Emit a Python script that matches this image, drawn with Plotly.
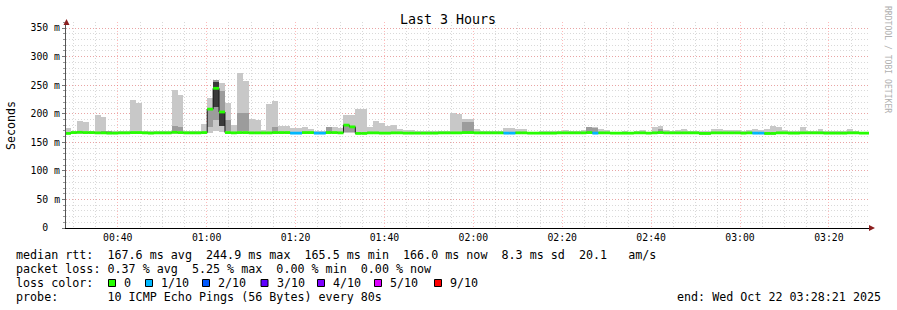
import plotly.graph_objects as go
import pandas as pd

# ---------------- data (ms) ----------------
smoke_max = [175, 170, 188, 186, 170, 198, 194, 170, 169, 169,
             169, 224, 218, 170, 169, 169, 170, 169, 241, 233,
             170, 170, 169, 182, 228, 259, 253, 219, 180, 272,
             258, 191, 189, 172, 217, 222, 179, 179, 175, 175,
             177, 173, 170, 170, 176, 177, 175, 198, 198, 209,
             209, 177, 187, 183, 178, 181, 173, 171, 171, 169,
             169, 170, 169, 169, 170, 201, 199, 190, 190, 174,
             170, 170, 170, 170, 175, 175, 174, 174, 168, 168,
             169, 169, 169, 170, 171, 169, 169, 172, 177, 177,
             173, 172, 168, 168, 169, 168, 170, 172, 168, 177,
             179, 172, 169, 172, 173, 170, 169, 170, 170, 173,
             173, 172, 172, 172, 169, 171, 174, 172, 173, 179,
             177, 172, 169, 169, 177, 170, 170, 173, 169, 169,
             169, 169, 174, 170, 168, 168]

smoke_min = [164, 165, 165, 165, 165, 164.5, 164.5, 164.5, 164.5, 164.5,
             164.5, 165, 165, 164.5, 164, 164.5, 164.5, 164.5, 165, 165,
             164.5, 164.5, 164.5, 165, 166, 170, 168, 165, 164.5, 165,
             165, 164.5, 164.5, 164.5, 164.5, 165, 165, 165, 164, 164,
             165, 165, 164, 164, 165, 165, 164.5, 166, 166, 164,
             164, 164.5, 164.5, 164.5, 164.5, 164.5, 164.5, 164.5, 164.5, 164.5,
             164.5, 164.5, 164.5, 164.5, 164.5, 164.5, 164.5, 165, 165, 164.5,
             164.5, 164.5, 164.5, 164.5, 164, 164, 164.5, 164.5, 164.5, 164.5,
             164.5, 164.5, 164.5, 164.5, 164.5, 164.5, 164.5, 164.5, 165, 164,
             164.5, 164.5, 164.5, 164.5, 164.5, 164.5, 164.5, 164.5, 164.5, 164.5,
             164.5, 164.5, 164.5, 164.5, 164.5, 164.5, 164.5, 163, 163, 164.5,
             164.5, 164.5, 164.5, 164.5, 164.5, 164.5, 164, 164, 163, 163,
             164.5, 164.5, 164.5, 164.5, 164.5, 164.5, 164.5, 164.5, 164.5, 164.5,
             164.5, 164.5, 164.5, 164.5, 164.5, 164.5]

median = [165.5, 167, 167.5, 167, 167, 166.5, 166.5, 166, 166, 166.5,
          166.5, 167, 167, 166.5, 166, 166.5, 166.5, 166.5, 167.5, 167,
          166.5, 166.5, 166.5, 167, 208, 244.5, 203, 167, 166.5, 167,
          167, 166.5, 166.5, 166.5, 166.5, 167, 167, 167, 166, 166,
          167, 167, 166, 166, 167, 167, 166.5, 180, 177, 165.5,
          165.5, 166.5, 166.5, 166, 166, 166.5, 166.5, 166, 166, 166,
          166, 166, 166, 166.5, 166.5, 166.5, 166.5, 167, 167, 166.5,
          166.5, 166.5, 166.5, 166.5, 166, 166, 166.5, 166.5, 166, 166,
          166, 166, 166, 166.5, 166.5, 166.5, 166.5, 166.5, 167, 166,
          166.5, 166.5, 166, 166, 166, 166, 166.5, 166.5, 166, 166.5,
          167, 166.5, 166.5, 166.5, 166.5, 166.5, 166.5, 165.5, 165.5, 166.5,
          166.5, 166.5, 166.5, 166.5, 166, 166.5, 166, 166, 165.5, 165.5,
          166.5, 166.5, 166, 166, 166.5, 166.5, 166.5, 166.5, 166, 166,
          166, 166, 166.5, 166.5, 166, 166]

loss = [0] * 38 + [1, 1, 0, 0, 1, 1] + [0] * 30 + [1, 1] + [0] * 13 + [1] + [0] * 26 + [1, 1] + [0] * 18

mid_idx = [6, 7, 18, 19, 24, 25, 26, 27, 29, 30, 35, 44, 47, 48, 67, 68, 88, 89, 100]
mid_lo = [166, 166, 169, 169, 177, 189, 178, 169, 169, 169, 168, 168, 168, 168, 168, 168, 168, 168, 168]
mid_hi = [170, 170, 179, 176, 206, 259, 240, 189, 201, 201, 177, 176, 179, 179, 186, 186, 177, 175, 173]

dark_idx = [25, 26]
dark_lo = [212, 178]
dark_hi = [256, 201]

loss_labels = ["0", "1/10", "2/10", "3/10", "4/10", "5/10", "9/10"]
loss_colors = ["#26ff00", "#00b8ff", "#0059ff", "#5e00ff", "#7e00ff", "#dd00ff", "#ff0000"]

y_ticks = [0, 50, 100, 150, 200, 250, 300, 350]
y_ticktext = ["0\u00a0\u00a0", "50 m", "100 m", "150 m", "200 m", "250 m", "300 m", "350 m"]

# ---------------- scales ----------------
STEP_S = 80
t_start = pd.Timestamp("2025-10-22 00:28:21")
bar_start = pd.Timestamp("2025-10-22 00:28:07")
n = len(median)
starts = [bar_start + pd.Timedelta(seconds=STEP_S * i) for i in range(n)]
ends = [s + pd.Timedelta(seconds=STEP_S) for s in starts]
centers = [s + pd.Timedelta(seconds=STEP_S / 2) for s in starts]
W = STEP_S * 1000

PLOT_L, PLOT_R, PLOT_T, PLOT_B = 66, 869, 22, 228
x_end = t_start + pd.Timedelta(minutes=180 * (PLOT_R - PLOT_L) / 800)


def px(x):
    return (x - PLOT_L) / (PLOT_R - PLOT_L)


def py(y):
    return (PLOT_B - y) / (PLOT_B - PLOT_T)


fig = go.Figure()

# light smoke
fig.add_trace(go.Bar(x=centers, base=smoke_min,
                     y=[h - l for h, l in zip(smoke_max, smoke_min)],
                     width=[W] * n, marker=dict(color="#c8c8c8", line=dict(width=0)),
                     hoverinfo="skip"))
# mid smoke
fig.add_trace(go.Bar(x=[centers[i] for i in mid_idx], base=mid_lo,
                     y=[h - l for h, l in zip(mid_hi, mid_lo)],
                     width=[W] * len(mid_idx), marker=dict(color="#9c9c9c", line=dict(width=0)),
                     hoverinfo="skip"))
# dark smoke
fig.add_trace(go.Bar(x=[centers[i] for i in dark_idx], base=dark_lo,
                     y=[h - l for h, l in zip(dark_hi, dark_lo)],
                     width=[W] * len(dark_idx), marker=dict(color="#3a3a3a", line=dict(width=0)),
                     hoverinfo="skip"))
# black step outline of median
fig.add_trace(go.Scatter(x=starts + [ends[-1]],
                         y=median + [median[-1]], mode="lines",
                         line=dict(color="#1a1a1a", width=1, shape="hv"), hoverinfo="skip"))
# median segments coloured by loss
for li, col in enumerate(loss_colors):
    xs, ys = [], []
    for i in range(n):
        if min(loss[i], 6) == li:
            xs += [starts[i], ends[i], None]
            ys += [median[i], median[i], None]
    if xs:
        fig.add_trace(go.Scatter(x=xs, y=ys, mode="lines",
                                 line=dict(color=col, width=2.8), hoverinfo="skip"))

mono = "DejaVu Sans Mono"
major_grid = "rgba(255,90,90,0.42)"
minor_grid = "rgba(150,150,150,0.36)"

fig.update_layout(
    width=897, height=310,
    margin=dict(l=PLOT_L, r=897 - PLOT_R, t=PLOT_T, b=310 - PLOT_B),
    paper_bgcolor="white", plot_bgcolor="white",
    barmode="overlay", bargap=0, showlegend=False,
    font=dict(family=mono, size=10, color="black"),
    xaxis=dict(type="date", range=[t_start, x_end],
               tick0="2025-10-22 00:00:00", dtick=20 * 60 * 1000, tickformat="%H:%M",
               showgrid=True, gridcolor=major_grid, griddash="1px,2px", gridwidth=1,
               ticks="",
               minor=dict(dtick=5 * 60 * 1000, showgrid=True, gridcolor=minor_grid,
                          griddash="1px,2px", ticks=""),
               showline=True, linecolor="black", linewidth=1, zeroline=False,
               tickfont=dict(family=mono, size=9.8, color="black"), fixedrange=True),
    yaxis=dict(range=[0, 360.5], tickvals=y_ticks, ticktext=y_ticktext,
               showgrid=True, gridcolor=major_grid, griddash="1px,2px", gridwidth=1,
               ticks="outside", ticklen=3, tickcolor="#777",
               minor=dict(dtick=10, showgrid=True, gridcolor=minor_grid, griddash="1px,2px",
                          ticks="outside", ticklen=2, tickcolor="#999"),
               showline=True, linecolor="#555", linewidth=1, zeroline=False,
               ticklabelstandoff=0,
               tickfont=dict(family=mono, size=9.8, color="black"), fixedrange=True),
)

ann = []
ann.append(dict(text="Last 3 Hours", x=px(448), y=py(19), xref="paper", yref="paper",
                showarrow=False, font=dict(family=mono, size=13.3, color="black"),
                xanchor="center", yanchor="middle"))
ann.append(dict(text="Seconds", x=px(11), y=py(126), xref="paper", yref="paper", textangle=-90,
                showarrow=False, font=dict(family=mono, size=11.6, color="black"),
                xanchor="center", yanchor="middle"))
ann.append(dict(text="RRDTOOL / TOBI OETIKER", x=px(888), y=py(59), xref="paper", yref="paper",
                textangle=90, showarrow=False, font=dict(family=mono, size=8.1, color="#b0b0b0"),
                xanchor="center", yanchor="middle"))


def nb(s):
    return s.replace(" ", "\u00a0")


lines = [
    (255, "median rtt:  167.6 ms avg  244.9 ms max  165.5 ms min  166.0 ms now  8.3 ms sd  20.1   am/s"),
    (268.5, "packet loss: 0.37 % avg  5.25 % max  0.00 % min  0.00 % now"),
    (282.5, "loss color:"),
    (296.5, "probe:       10 ICMP Echo Pings (56 Bytes) every 80s"),
]
for yy, t in lines:
    ann.append(dict(text=nb(t), x=px(15), y=py(yy), xref="paper", yref="paper",
                    showarrow=False, font=dict(family=mono, size=11.7, color="black"),
                    xanchor="left", yanchor="middle", borderpad=0))

label_x = [124, 161, 218, 276.5, 333, 390, 450]
shapes = []
for lx, lab, col in zip(label_x, loss_labels, loss_colors):
    ann.append(dict(text=lab, x=px(lx - 1), y=py(282.5), xref="paper", yref="paper",
                    showarrow=False, font=dict(family=mono, size=11.7, color="black"),
                    xanchor="left", yanchor="middle", borderpad=0))
    shapes.append(dict(type="rect", xref="paper", yref="paper",
                       x0=px(lx - 15.5), x1=px(lx - 8.5), y0=py(286.5), y1=py(279.5),
                       fillcolor=col, line=dict(color="black", width=1)))

ann.append(dict(text=nb("end: Wed Oct 22 03:28:21 2025"), x=px(882), y=py(296.5),
                xref="paper", yref="paper", showarrow=False,
                font=dict(family=mono, size=11.7, color="black"),
                xanchor="right", yanchor="middle", borderpad=0))

# axis arrows
shapes.append(dict(type="path", xref="paper", yref="paper",
                   path=f"M {px(63.5)} {py(25)} L {px(69.5)} {py(25)} L {px(66.5)} {py(19)} Z",
                   fillcolor="#8b1e1e", line=dict(color="#8b1e1e", width=0)))
shapes.append(dict(type="path", xref="paper", yref="paper",
                   path=f"M {px(869)} {py(225)} L {px(869)} {py(231)} L {px(875)} {py(228)} Z",
                   fillcolor="#8b1e1e", line=dict(color="#8b1e1e", width=0)))

fig.update_layout(annotations=ann, shapes=shapes)
fig.write_html("out.html")
